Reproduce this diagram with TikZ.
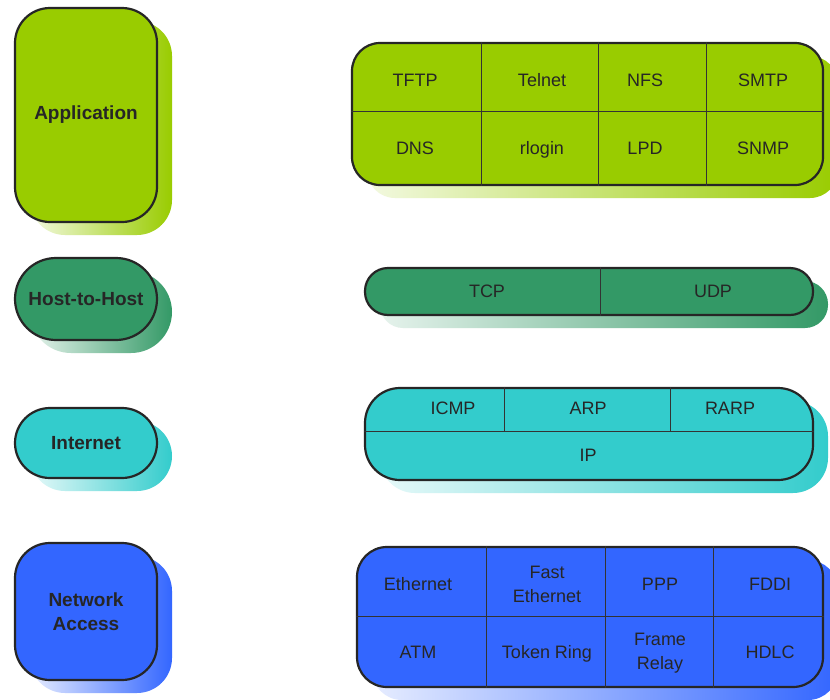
\documentclass[tikz,border=0pt]{standalone}
\usepackage{fontspec}
\setmainfont{Liberation Sans}
\definecolor{appc}{HTML}{99CC00}
\definecolor{hostc}{HTML}{339966}
\definecolor{netc}{HTML}{33CCCC}
\definecolor{accc}{HTML}{3366FF}
\tikzset{
  layerbox/.style={draw=black!85, line width=2.2pt, fill=#1, inner sep=0pt},
  shadowbox/.style={draw=none, left color=#1!12, right color=#1, inner sep=0pt},
  celltwo/.style={font=\fontsize{18}{24}\selectfont, text=black!85, align=center, inner sep=0pt},
  cell/.style={celltwo, text height=13pt, text depth=4pt},
  lab/.style={font=\bfseries\fontsize{19}{24}\selectfont, text=black!85, align=center, inner sep=0pt},
  divider/.style={draw=black!80, line width=1.1pt}
}
\newcommand{\LayerBox}[7]{%
  \node[shadowbox=#2, rounded corners=#7pt, minimum width=#5pt, minimum height=#6pt] (#1S) at (#3+15,#4+13) {};
  \node[layerbox=#2, rounded corners=#7pt, minimum width=#5pt, minimum height=#6pt] (#1) at (#3,#4) {};
}
\begin{document}
\begin{tikzpicture}[x=1pt,y=-1pt]
\fill[white] (0,0) rectangle (830,699);
\useasboundingbox (0,0) rectangle (830,699);

% left layer boxes
\LayerBox{app}{appc}{86}{115}{142}{214}{35}
\LayerBox{host}{hostc}{86}{299}{142}{82}{41}
\LayerBox{inet}{netc}{86}{443}{142}{70}{35}
\LayerBox{acc}{accc}{86}{611.5}{142}{137}{35}

\node[lab] (appL) at (app) {Application};
\node[lab] (hostL) at (host) {Host-to-Host};
\node[lab] (inetL) at (inet) {Internet};
\node[lab] (accL) at (acc) {Network\\Access};

% right protocol boxes
\LayerBox{appP}{appc}{587.5}{114}{471}{142}{28}
\LayerBox{hostP}{hostc}{589}{291.5}{448}{47}{23}
\LayerBox{inetP}{netc}{589}{434}{448}{92}{35}
\LayerBox{accP}{accc}{590}{617}{466}{140}{30}

% application dividers
\draw[divider] ([yshift=-70pt]appP.north west) -- ([yshift=-70pt]appP.north east);
\foreach \d in {131,248,356}
  \draw[divider] ([xshift=\d pt]appP.north west) -- ([xshift=\d pt]appP.south west);
% host dividers
\draw[divider] ([xshift=237pt]hostP.north west) -- ([xshift=237pt]hostP.south west);
% internet dividers
\draw[divider] ([yshift=-45pt]inetP.north west) coordinate (iw) -- ([yshift=-45pt]inetP.north east);
\foreach \d in {141,307}
  \draw[divider] ([xshift=\d pt]inetP.north west) -- ([xshift=\d pt]iw);
% network access dividers
\draw[divider] ([yshift=-71pt]accP.north west) -- ([yshift=-71pt]accP.north east);
\foreach \d in {131,250,358}
  \draw[divider] ([xshift=\d pt]accP.north west) -- ([xshift=\d pt]accP.south west);

% application protocols
\node[cell] (tftp) at (415,82) {TFTP};
\node[cell] (telnet) at (542,82) {Telnet};
\node[cell] (nfs) at (645,82) {NFS};
\node[cell] (smtp) at (763,82) {SMTP};
\node[cell] (dns) at (415,150) {DNS};
\node[cell] (rlogin) at (542,150) {rlogin};
\node[cell] (lpd) at (645,150) {LPD};
\node[cell] (snmp) at (763,150) {SNMP};
% host-to-host protocols
\node[cell] (tcp) at (487,293) {TCP};
\node[cell] (udp) at (713,293) {UDP};
% internet protocols
\node[cell] (icmp) at (453,410) {ICMP};
\node[cell] (arp) at (588,410) {ARP};
\node[cell] (rarp) at (730,410) {RARP};
\node[cell] (ip) at (588,457) {IP};
% network access protocols
\node[cell] (eth) at (418,586) {Ethernet};
\node[celltwo] (feth) at (547,584) {Fast\\Ethernet};
\node[cell] (ppp) at (660,586) {PPP};
\node[cell] (fddi) at (770,586) {FDDI};
\node[cell] (atm) at (418,654) {ATM};
\node[cell] (tring) at (547,654) {Token Ring};
\node[celltwo] (frelay) at (660,653) {Frame\\Relay};
\node[cell] (hdlc) at (770,654) {HDLC};
\end{tikzpicture}
\end{document}
